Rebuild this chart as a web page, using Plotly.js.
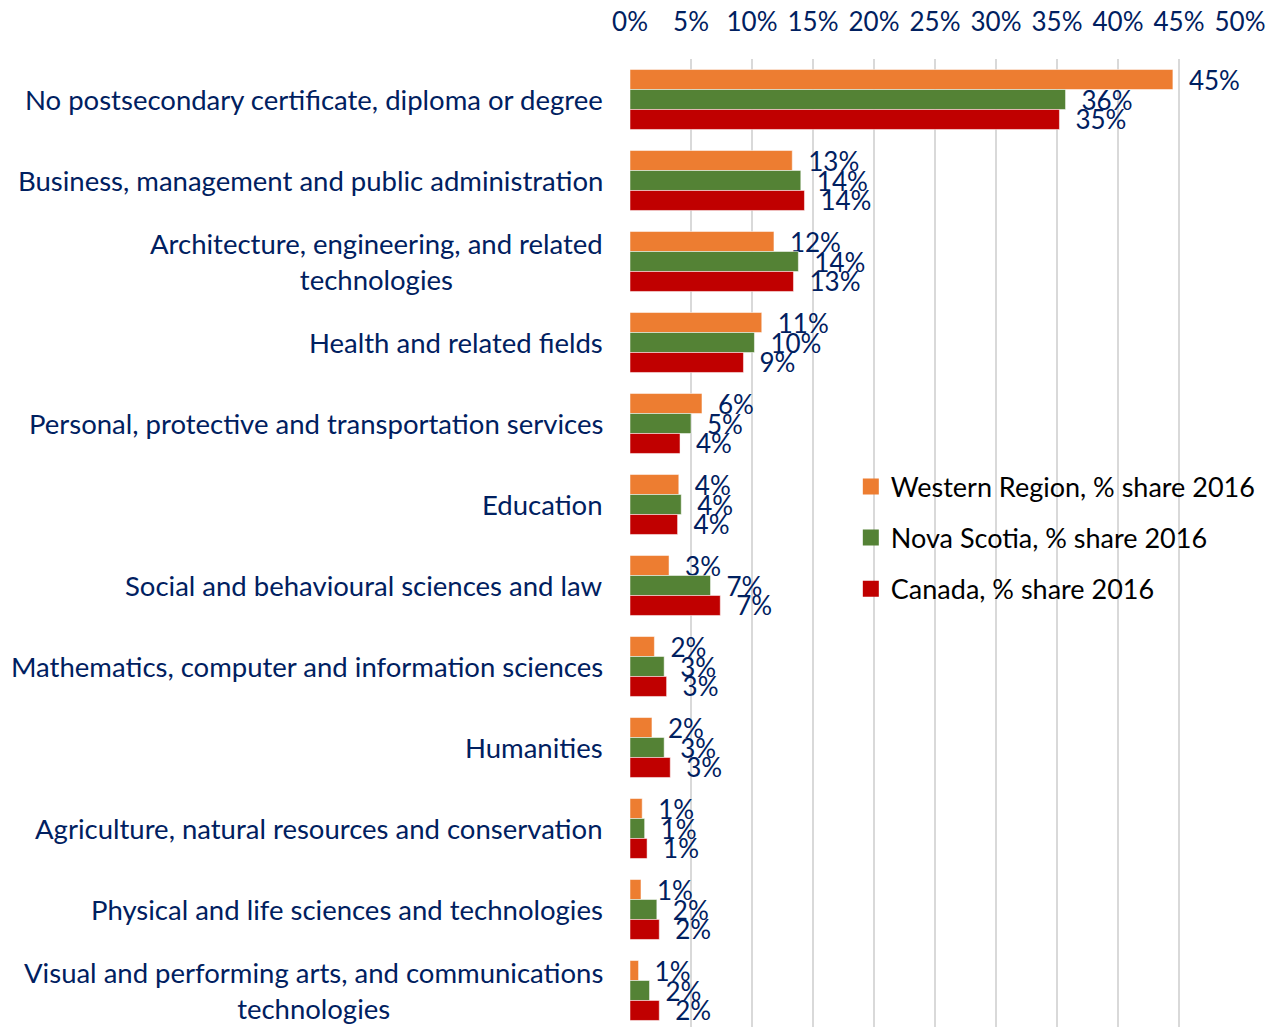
<!DOCTYPE html>
<html>
<head>
<meta charset="utf-8">
<script src="https://cdn.plot.ly/plotly-3.0.1.min.js"></script>
<style>
html,body{margin:0;padding:0;overflow:hidden;background:#fff;}
#chart{width:1268px;height:1031px;}
</style>
</head>
<body>
<div id="chart"></div>
<script>
var categories = [
  "No postsecondary certificate, diploma or degree",
  "Business, management and public administration",
  "Architecture, engineering, and related<br>technologies",
  "Health and related fields",
  "Personal, protective and transportation services",
  "Education",
  "Social and behavioural sciences and law",
  "Mathematics, computer and information sciences",
  "Humanities",
  "Agriculture, natural resources and conservation",
  "Physical and life sciences and technologies",
  "Visual and performing arts, and communications<br>technologies"
];
var westernRegion = [44.5, 13.3, 11.8, 10.8, 5.9, 4.0, 3.2, 2.0, 1.8, 1.0, 0.9, 0.7];
var novaScotia    = [35.7, 14.0, 13.8, 10.2, 5.0, 4.2, 6.6, 2.8, 2.8, 1.2, 2.2, 1.6];
var canada        = [35.2, 14.3, 13.4,  9.3, 4.1, 3.9, 7.4, 3.0, 3.3, 1.4, 2.4, 2.4];
var seriesNames = ["Western Region, % share 2016", "Nova Scotia, % share 2016", "Canada, % share 2016"];
var tickValues = [0, 5, 10, 15, 20, 25, 30, 35, 40, 45, 50];
var tickLabels = ["0%", "5%", "10%", "15%", "20%", "25%", "30%", "35%", "40%", "45%", "50%"];

var FONT = "Lato, 'Open Sans', sans-serif";
var NAVY = "#002060";
var colors = ["#ED7D31", "#548235", "#C00000"];
var seriesData = [westernRegion, novaScotia, canada];

var traces = seriesData.map(function (vals, i) {
  return {
    type: "bar",
    orientation: "h",
    name: seriesNames[i],
    showlegend: false,
    x: vals,
    y: categories,
    marker: {color: colors[i], line: {color: "rgba(255,255,255,0.5)", width: 1}},
    text: vals.map(function (v) { return "\u2002" + Math.round(v) + "%"; }),
    textposition: "outside",
    constraintext: "none",
    cliponaxis: false,
    textfont: {family: FONT, size: 26, color: NAVY},
    hoverinfo: "x+y"
  };
});

// legend entries (square swatches)
seriesNames.forEach(function (n, i) {
  traces.push({
    type: "scatter", mode: "markers",
    name: n, legendgroup: "g" + i,
    x: [null], y: [null],
    marker: {symbol: "square", size: 16, color: colors[i]},
    hoverinfo: "skip"
  });
});

var annotations = categories.map(function (c) {
  return {
    xref: "paper", yref: "y", x: 0, y: c,
    xanchor: "right", yanchor: "middle",
    xshift: -25,
    text: c, showarrow: false, align: "center",
    font: {family: FONT, size: 27.5, color: NAVY}
  };
});

var layout = {
  width: 1268, height: 1031,
  margin: {l: 630, r: 28, t: 59, b: 0, pad: 0},
  paper_bgcolor: "#fff", plot_bgcolor: "#fff",
  barmode: "group", bargap: 0.26, bargroupgap: 0,
  font: {family: FONT, color: NAVY},
  xaxis: {
    side: "top", range: [0, 50],
    tickvals: tickValues, ticktext: tickLabels,
    showgrid: true, gridcolor: "#D9D9D9", gridwidth: 2,
    zeroline: false, showline: false, ticks: "",
    ticklabelstandoff: 22,
    tickfont: {family: FONT, size: 26, color: NAVY},
    fixedrange: true
  },
  yaxis: {
    type: "category", range: [11.5, -0.5],
    showticklabels: false, showgrid: false, zeroline: false,
    showline: false, ticks: "", fixedrange: true
  },
  showlegend: true,
  legend: {
    x: 0.362, y: 0.585, xanchor: "left", yanchor: "top",
    traceorder: "grouped", tracegroupgap: 13, itemsizing: "trace",
    font: {family: FONT, size: 27, color: "#000"},
    bgcolor: "rgba(255,255,255,0)"
  },
  annotations: annotations
};

Plotly.newPlot("chart", traces, layout, {displayModeBar: false, staticPlot: true});
</script>
</body>
</html>
